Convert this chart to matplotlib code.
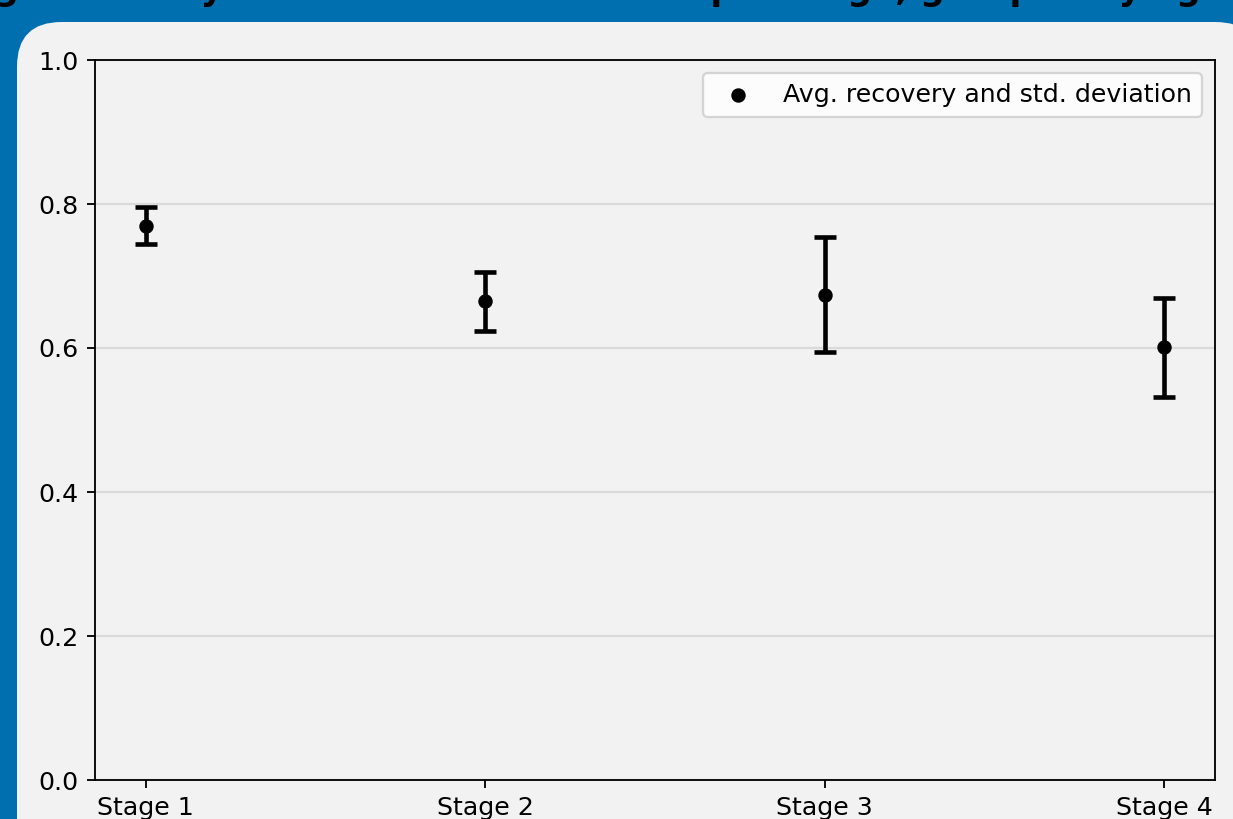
import matplotlib
matplotlib.use("Agg")
import matplotlib.pyplot as plt
from matplotlib.patches import FancyBboxPatch

plt.rcParams["font.family"] = ["DejaVu Sans"]
plt.rcParams["font.size"] = 11

stages = ["Stage 1", "Stage 2", "Stage 3", "Stage 4"]
avg_recovery = [0.770, 0.665, 0.674, 0.601]
std_dev = [0.026, 0.041, 0.080, 0.069]

DPI = 165
fig = plt.figure(figsize=(1233 / DPI, 819 / DPI), dpi=DPI, facecolor="#006FAF")

# light rounded panel behind the plot (coordinates in inches)
panel = FancyBboxPatch((17 / DPI, -1.0), (1260 - 17) / DPI, (819 - 22) / DPI + 1.0,
                       boxstyle="round,pad=0,rounding_size=0.27",
                       transform=fig.dpi_scale_trans, fc="#F2F2F2", ec="none",
                       zorder=-10)
fig.add_artist(panel)

# title sits mostly above the visible area, only the lower part shows
fig.text(0.5, 1.0 - 7 / 819, "Average recovery with standard deviation per stage, grouped by age group",
         ha="center", va="bottom", fontsize=15, fontweight="bold", color="black")

ax = fig.add_axes([95 / 1233, 39 / 819, 1120 / 1233, 720 / 819])
ax.set_facecolor("#F2F2F2")

x = list(range(len(stages)))
ax.errorbar(x, avg_recovery, yerr=std_dev, fmt="none", ecolor="black",
            capsize=5, elinewidth=2, capthick=2)
ax.scatter(x, avg_recovery, color="black", s=28, zorder=3,
           label="Avg. recovery and std. deviation")

ax.set_xticks(x, stages)
ax.set_ylim(0, 1)
ax.yaxis.grid(True, color="#DADADA", linewidth=1)
ax.set_axisbelow(True)
ax.legend(loc="upper right")

fig.savefig("out.png", dpi=DPI, facecolor=fig.get_facecolor())
